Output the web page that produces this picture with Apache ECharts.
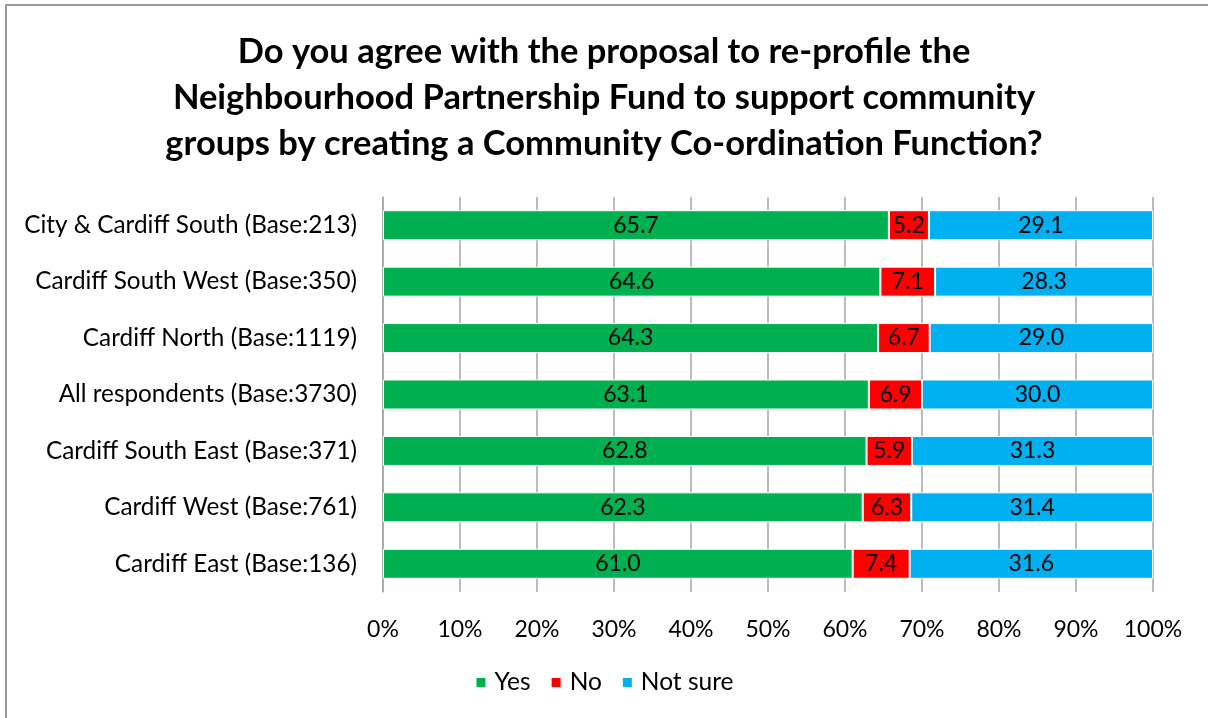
<!DOCTYPE html>
<html>
<head>
<meta charset="utf-8">
<script src="https://cdn.jsdelivr.net/npm/echarts@6/dist/echarts.min.js"></script>
<style>html,body{margin:0;padding:0;background:#fff;}#c{width:1208px;height:718px;}</style>
</head>
<body>
<div id="c"></div>
<script>
const categories = [
  'City & Cardiff South (Base:213)',
  'Cardiff South West (Base:350)',
  'Cardiff North (Base:1119)',
  'All respondents (Base:3730)',
  'Cardiff South East (Base:371)',
  'Cardiff West (Base:761)',
  'Cardiff East (Base:136)'
];
const yesValues = [65.7, 64.6, 64.3, 63.1, 62.8, 62.3, 61.0];
const noValues = [5.2, 7.1, 6.7, 6.9, 5.9, 6.3, 7.4];
const notSureValues = [29.1, 28.3, 29.0, 30.0, 31.3, 31.4, 31.6];
const seriesNames = ['Yes', 'No', 'Not sure'];
const colors = ['#00B050', '#FF0000', '#00B0F0'];
const titleText = 'Do you agree with the proposal to re-profile the\nNeighbourhood Partnership Fund to support community\ngroups by creating a Community Co-ordination Function?';

const FONT = 'Lato, "Open Sans", sans-serif';
const chart = echarts.init(document.getElementById('c'));
function mk(name, data, color) {
  return {
    name: name, type: 'bar', stack: 'total', data: data, barWidth: 30,
    itemStyle: { color: color, borderColor: '#fff', borderWidth: 1 },
    label: { show: true, position: 'inside', color: '#000', fontSize: 23, fontFamily: FONT,
      formatter: p => p.value.toFixed(1) }
  };
}
chart.setOption({
  animation: false,
  textStyle: { fontFamily: FONT },
  title: {
    text: titleText, left: 'center', top: 24,
    textStyle: { fontSize: 34.5, fontWeight: 'bold', color: '#000', fontFamily: FONT, lineHeight: 46 }
  },
  graphic: [{
    type: 'rect', shape: { x: 6, y: 5, width: 1300, height: 800 },
    style: { fill: 'none', stroke: '#999', lineWidth: 2 }, silent: true
  }],
  legend: {
    data: seriesNames, bottom: 18, left: 'center', itemWidth: 11, itemHeight: 11, itemGap: 19,
    icon: 'rect', textStyle: { fontSize: 24.5, color: '#000', fontFamily: FONT, padding: [0, 0, 0, 3] }
  },
  grid: { left: 383, right: 55, top: 197, height: 395, containLabel: false },
  xAxis: {
    type: 'value', min: 0, max: 100, interval: 10,
    axisLabel: { formatter: '{value}%', fontSize: 23, color: '#000', margin: 26, fontFamily: FONT },
    axisLine: { show: false }, axisTick: { show: false },
    splitLine: { show: true, lineStyle: { color: '#A6A6A6', width: 1.5 } }
  },
  yAxis: {
    type: 'category', data: categories, inverse: true,
    axisLabel: { fontSize: 24.3, color: '#000', margin: 26, fontFamily: FONT },
    axisLine: { show: true, lineStyle: { color: '#A6A6A6', width: 1.5 } },
    axisTick: { show: false }
  },
  series: [mk(seriesNames[0], yesValues, colors[0]), mk(seriesNames[1], noValues, colors[1]), mk(seriesNames[2], notSureValues, colors[2])]
});
</script>
</body>
</html>
